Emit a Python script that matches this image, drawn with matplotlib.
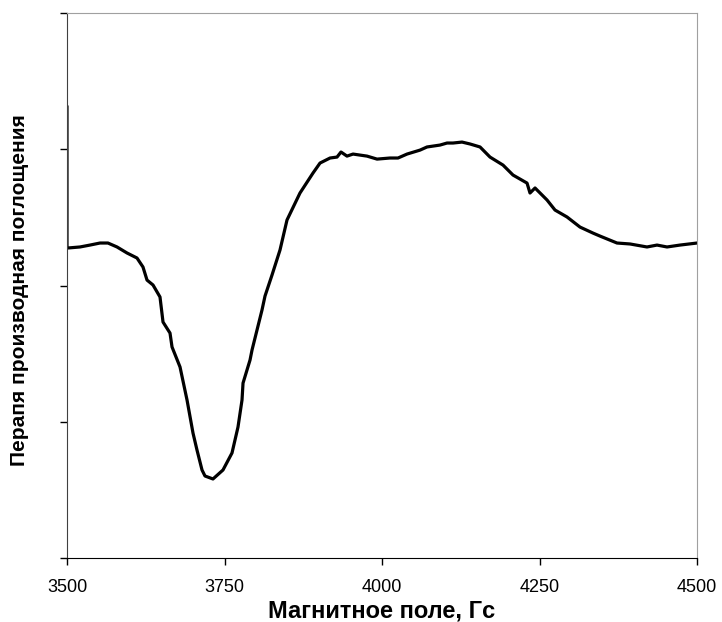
import numpy as np
import matplotlib.pyplot as plt

plt.rcParams['font.family'] = ['Liberation Sans', 'DejaVu Sans']

# EPR derivative spectrum
field = [3500, 3500, 3520.6, 3536.5, 3552.4, 3565, 3579.4, 3595.2, 3611.1, 3620.6,
         3627, 3636.5, 3647.6, 3652.4, 3663.5, 3666.7, 3679.4, 3690.5, 3700, 3706.3,
         3714.3, 3719, 3731.7, 3747.6, 3761.9, 3771.4, 3777.8, 3779.4, 3790.5, 3793.7,
         3809.5, 3814.3, 3825.4, 3838.1, 3849.2, 3869.8, 3890.5, 3901.6, 3917.5, 3928.6,
         3934.9, 3944.4, 3954, 3976.2, 3992.1, 4012.7, 4025.4, 4039.7, 4060.3, 4071.4,
         4092, 4103.2, 4112.7, 4127, 4139.7, 4155.6, 4171.4, 4192.1, 4207.9, 4230.2,
         4234.9, 4242.9, 4261.9, 4274.6, 4293.7, 4314.3, 4334.9, 4346, 4373, 4393.7,
         4420.6, 4436.5, 4452.4, 4473, 4500]
signal = [3.31, 2.275, 2.283, 2.297, 2.312, 2.312, 2.283, 2.239, 2.202, 2.136,
          2.040, 2.004, 1.916, 1.732, 1.651, 1.549, 1.402, 1.160, 0.917, 0.793,
          0.646, 0.602, 0.580, 0.646, 0.771, 0.961, 1.160, 1.284, 1.453, 1.527,
          1.820, 1.923, 2.077, 2.261, 2.481, 2.679, 2.826, 2.899, 2.936, 2.943,
          2.980, 2.950, 2.965, 2.950, 2.928, 2.936, 2.936, 2.965, 2.994, 3.017,
          3.031, 3.046, 3.046, 3.053, 3.039, 3.017, 2.943, 2.884, 2.811, 2.752,
          2.679, 2.716, 2.628, 2.554, 2.503, 2.429, 2.385, 2.363, 2.312, 2.305,
          2.283, 2.297, 2.283, 2.297, 2.312]
x_ticks = [3500, 3750, 4000, 4250, 4500]

fig = plt.figure(figsize=(7.22, 6.22), dpi=100)
ax = fig.add_axes([0.0928, 0.1029, 0.8726, 0.8761])

ax.plot(field, signal, color='black', linewidth=2.3)

ax.set_xlim(3500, 4500)
ax.set_ylim(0, 4)
ax.set_xticks(x_ticks)
ax.set_yticks([0, 1, 2, 3, 4])
ax.set_yticklabels([])
ax.tick_params(axis='both', direction='out', length=5, width=1, labelsize=13)
ax.tick_params(axis='x', pad=10)

# spine colours like the original
ax.spines['left'].set_color('#404040')
ax.spines['bottom'].set_color('black')
ax.spines['top'].set_color('#a0a0a0')
ax.spines['right'].set_color('#a0a0a0')

ax.set_xlabel('Магнитное поле, Гс', fontsize=17, fontweight='bold')
ax.xaxis.set_label_coords(0.5, -0.076)
ax.set_ylabel('Перапя производная поглощения', fontsize=15, fontweight='bold')
ax.yaxis.set_label_coords(-0.075, 0.492)
ax.yaxis.label.set_va('center')

fig.savefig('out.png', dpi=100)
